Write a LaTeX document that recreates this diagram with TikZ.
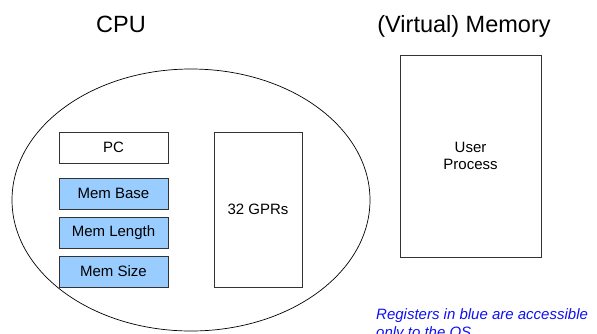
\documentclass[tikz,border=0pt]{standalone}
\usepackage{fontspec}
\setmainfont{Liberation Sans}
\usetikzlibrary{shapes.geometric}
\definecolor{osblue}{HTML}{99CCFF}
\definecolor{edge}{HTML}{333333}
\definecolor{notecol}{HTML}{1010F0}
\begin{document}
\begin{tikzpicture}[x=1pt,y=-1pt,
  regbox/.style={draw=edge,line width=0.9pt,inner sep=0pt,minimum width=109pt,minimum height=31pt,
    font=\fontsize{15}{17.5}\selectfont},
  osreg/.style={regbox,fill=osblue},
  title/.style={font=\fontsize{23.5}{28}\selectfont,anchor=base,inner sep=0pt}]
\useasboundingbox (0,0) rectangle (597,333);
% headings
\node[title] (cputitle) at (121,32) {CPU};
\node[title] (memtitle) at (464,32) {(Virtual) Memory};
% processor outline
\node[draw,ellipse,line width=0.7pt,minimum width=358pt,minimum height=262pt,inner sep=0pt] (cpu) at (191,200) {};
% registers
\node[regbox] (pc) at (113.5,147.5) {PC};
\node[osreg] (base) at (113.5,193.5) {Mem Base};
\node[osreg] (len) at (113.5,232.5) {Mem Length};
\node[osreg] (size) at (113.5,271.5) {Mem Size};
\node[regbox,minimum width=88pt,minimum height=155pt] (gpr) at (258,209.5) {32 GPRs};
% memory
\node[regbox,minimum width=141pt,minimum height=202pt,align=center] (mem) at (470.5,156) {User\\Process};
% note
\node[anchor=north west,inner sep=0pt,align=left,text=notecol,
  font=\fontsize{15}{17.5}\selectfont\itshape] (note) at (376,308.5)
  {Registers in blue are accessible\\only to the OS};
\end{tikzpicture}
\end{document}
